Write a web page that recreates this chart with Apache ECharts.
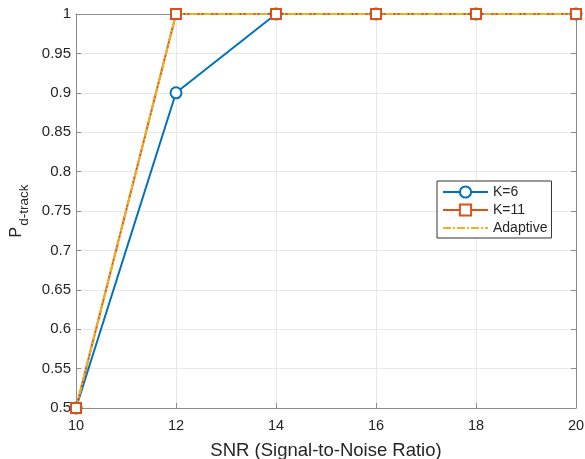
<!DOCTYPE html>
<html>
<head>
<meta charset="utf-8">
<script src="https://cdn.jsdelivr.net/npm/echarts@6/dist/echarts.min.js"></script>
<style>
    html, body { margin: 0; padding: 0; background: #fff; }
    #chart { width: 585px; height: 459px; }
</style>
</head>
<body>
<div id="chart"></div>
<script>
// SNR values on the x axis
var snr = [10, 12, 14, 16, 18, 20];
// detection-tracking probability for each setting
var k6 = [0.5, 0.9, 1, 1, 1, 1];
var k11 = [0.5, 1, 1, 1, 1, 1];
var adaptive = [0.5, 1, 1, 1, 1, 1];
var seriesNames = ["K=6", "K=11", "Adaptive"];

function pairs(xs, ys) {
    return xs.map(function (x, i) { return [x, ys[i]]; });
}

var font = "Liberation Sans, Arial, sans-serif";
var axisGrey = "#8c8c8c";
var textColor = "#262626";

var myChart = echarts.init(document.getElementById("chart"));
var option = {
    animation: false,
    // keep the plot box fixed, don't let labels shrink it
    grid: { left: 76, right: 9, top: 14, bottom: 51, outerBoundsMode: "none" },
    xAxis: [{
        type: "value",
        min: 10, max: 20, interval: 2,
        name: "SNR (Signal-to-Noise Ratio)",
        nameLocation: "middle",
        nameGap: 33,
        nameTextStyle: { fontFamily: font, fontSize: 18.5, color: textColor },
        axisLine: { show: true, onZero: false, lineStyle: { color: axisGrey } },
        axisTick: { show: true, inside: true, length: 5, lineStyle: { color: axisGrey } },
        axisLabel: { fontFamily: font, fontSize: 14.5, color: textColor, margin: 10 },
        splitLine: { show: true, lineStyle: { color: "#e8e8e8" } }
    }, {
        type: "value", position: "top",
        min: 10, max: 20, interval: 2,
        axisLine: { show: true, onZero: false, lineStyle: { color: axisGrey } },
        axisTick: { show: true, inside: true, length: 5, lineStyle: { color: axisGrey } },
        axisLabel: { show: false },
        splitLine: { show: false }
    }],
    yAxis: [{
        type: "value",
        min: 0.5, max: 1, interval: 0.05,
        name: "{p|P}{s|d-track}",
        nameLocation: "middle",
        nameGap: 43,
        nameTextStyle: {
            rich: {
                p: { fontFamily: font, fontSize: 16, color: textColor },
                s: { fontFamily: font, fontSize: 13.5, color: textColor, padding: [14, 0, 0, 1] }
            }
        },
        axisLine: { show: true, onZero: false, lineStyle: { color: axisGrey } },
        axisTick: { show: true, inside: true, length: 5, lineStyle: { color: axisGrey } },
        axisLabel: {
            fontFamily: font, fontSize: 15, color: textColor, margin: 5,
            formatter: function (v) { return String(+v.toFixed(2)); }
        },
        splitLine: { show: true, lineStyle: { color: "#e8e8e8" } }
    }, {
        type: "value", position: "right",
        min: 0.5, max: 1, interval: 0.05,
        axisLine: { show: true, onZero: false, lineStyle: { color: axisGrey } },
        axisTick: { show: true, inside: true, length: 5, lineStyle: { color: axisGrey } },
        axisLabel: { show: false },
        splitLine: { show: false }
    }],
    legend: {
        left: 437, top: 181,
        orient: "vertical",
        data: [
            { name: seriesNames[0] },
            { name: seriesNames[1] },
            { name: seriesNames[2], itemStyle: { opacity: 0 } }
        ],
        itemWidth: 45, itemHeight: 14, itemGap: 4,
        padding: [4, 4, 3, 5],
        borderColor: "#333", borderWidth: 1,
        backgroundColor: "#fff",
        textStyle: { fontFamily: font, fontSize: 14, color: textColor }
    },
    series: [
        {
            type: "line", name: seriesNames[0],
            data: pairs(snr, k6),
            symbol: "emptyCircle", symbolSize: 11,
            clip: false,
            lineStyle: { color: "#0072BD", width: 2 },
            itemStyle: { color: "#0072BD", borderWidth: 2 }
        },
        {
            type: "line", name: seriesNames[1],
            data: pairs(snr, k11),
            symbol: "emptyRect", symbolSize: 10,
            clip: false,
            lineStyle: { color: "#D95319", width: 2 },
            itemStyle: { color: "#D95319", borderWidth: 2 }
        },
        {
            type: "line", name: seriesNames[2],
            data: pairs(snr, adaptive),
            symbol: "none",
            clip: false,
            lineStyle: { color: "#EDB120", width: 2, type: [8, 2, 2, 2] },
            itemStyle: { color: "#EDB120" }
        }
    ]
};
myChart.setOption(option);
</script>
</body>
</html>
